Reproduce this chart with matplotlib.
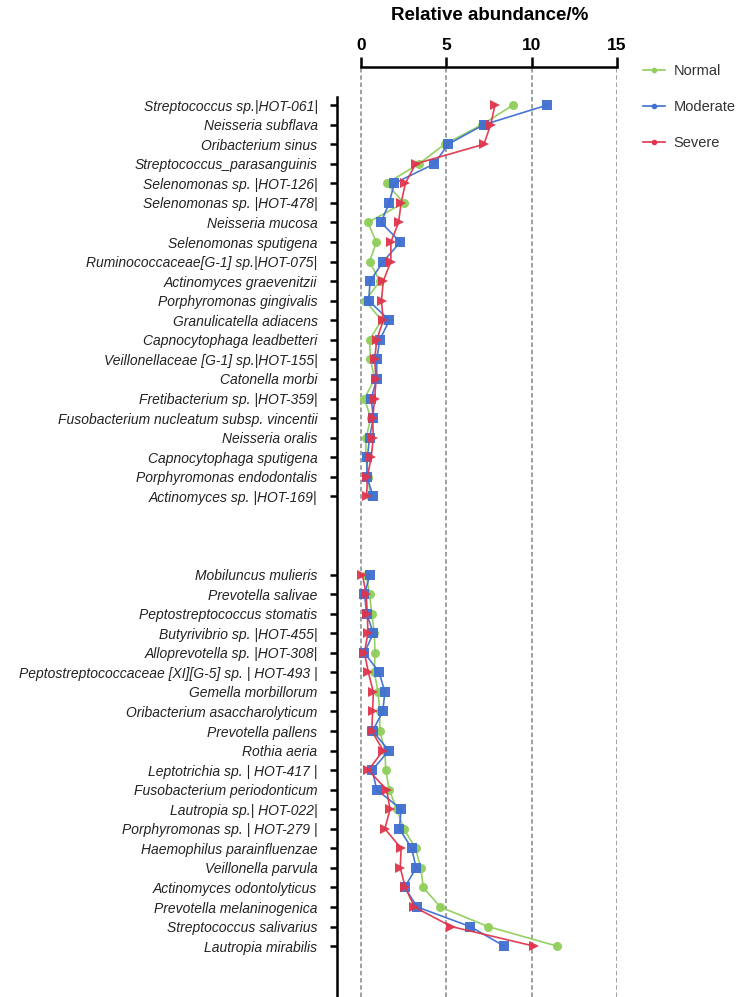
import matplotlib.pyplot as plt
from matplotlib.lines import Line2D

plt.rcParams['font.family'] = ['Liberation Sans', 'DejaVu Sans']

# --------------------------
# Data: taxa (top to bottom) and relative abundance (%) per group
# --------------------------
taxa_top = [
    "Streptococcus sp.|HOT-061|", "Neisseria subflava", "Oribacterium sinus",
    "Streptococcus_parasanguinis", "Selenomonas sp. |HOT-126|", "Selenomonas sp. |HOT-478|",
    "Neisseria mucosa", "Selenomonas sputigena", "Ruminococcaceae[G-1] sp.|HOT-075|",
    "Actinomyces graevenitzii", "Porphyromonas gingivalis", "Granulicatella adiacens",
    "Capnocytophaga leadbetteri", "Veillonellaceae [G-1] sp.|HOT-155|", "Catonella morbi",
    "Fretibacterium sp. |HOT-359|", "Fusobacterium nucleatum subsp. vincentii",
    "Neisseria oralis", "Capnocytophaga sputigena", "Porphyromonas endodontalis",
    "Actinomyces sp. |HOT-169|",
]
taxa_bottom = [
    "Mobiluncus mulieris", "Prevotella salivae", "Peptostreptococcus stomatis",
    "Butyrivibrio sp. |HOT-455|", "Alloprevotella sp. |HOT-308|",
    "Peptostreptococcaceae [XI][G-5] sp. | HOT-493 |", "Gemella morbillorum",
    "Oribacterium asaccharolyticum", "Prevotella pallens", "Rothia aeria",
    "Leptotrichia sp. | HOT-417 |", "Fusobacterium periodonticum", "Lautropia sp.| HOT-022|",
    "Porphyromonas sp. | HOT-279 |", "Haemophilus parainfluenzae", "Veillonella parvula",
    "Actinomyces odontolyticus", "Prevotella melaninogenica", "Streptococcus salivarius",
    "Lautropia mirabilis",
]

normal_top = [8.9, 7.1, 4.9, 3.4, 1.5, 2.5, 0.4, 0.9, 0.5, 1.1, 0.25, 1.2,
              0.5, 0.55, 0.8, 0.2, 0.57, 0.3, 0.27, 0.43, 0.53]
moderate_top = [10.9, 7.2, 5.1, 4.3, 1.95, 1.65, 1.17, 2.3, 1.3, 0.53, 0.45, 1.66,
                1.1, 0.92, 0.92, 0.6, 0.72, 0.5, 0.37, 0.33, 0.72]
severe_top = [7.85, 7.6, 7.2, 3.2, 2.6, 2.35, 2.2, 1.75, 1.75, 1.3, 1.2, 1.3,
              0.92, 0.8, 0.88, 0.8, 0.68, 0.72, 0.6, 0.37, 0.33]

normal_bottom = [0.3, 0.5, 0.63, 0.78, 0.82, 0.78, 1.0, 1.1, 1.1, 1.4,
                 1.45, 1.65, 2.1, 2.5, 3.2, 3.5, 3.65, 4.65, 7.45, 11.5]
moderate_bottom = [0.53, 0.2, 0.33, 0.72, 0.2, 1.06, 1.4, 1.27, 0.68, 1.63,
                   0.66, 0.92, 2.35, 2.25, 2.97, 3.23, 2.55, 3.3, 6.4, 8.4]
severe_bottom = [0.08, 0.3, 0.37, 0.4, 0.2, 0.43, 0.72, 0.68, 0.63, 1.3,
                 0.43, 1.5, 1.7, 1.4, 2.35, 2.3, 2.6, 3.13, 5.3, 10.15]

gap = 3  # empty rows between the two blocks
pos_top = list(range(len(taxa_top)))
pos_bottom = [len(taxa_top) + gap + i for i in range(len(taxa_bottom))]

groups = [
    ("Normal", normal_top, normal_bottom, "#8fce5a", "o"),
    ("Moderate", moderate_top, moderate_bottom, "#3f6fd0", "s"),
    ("Severe", severe_top, severe_bottom, "#e0344c", ">"),
]

fig = plt.figure(figsize=(7.48, 9.97), dpi=100)
ax = fig.add_axes([0.4505, 0.0, 0.3743, 0.9328])

for name, top, bottom, color, marker in groups:
    for pos, vals in ((pos_top, top), (pos_bottom, bottom)):
        ax.plot(vals, pos, color=color, lw=1.2, marker=marker, ms=6.5,
                markeredgewidth=0, alpha=0.95)

ax.set_xlim(-1.41, 15)
ax.set_ylim(45.6, -1.95)

# top axis with ticks
ax.xaxis.tick_top()
ax.set_xticks([0, 5, 10, 15])
ax.tick_params(axis="x", direction="out", length=7, width=1.8, pad=3,
               labelsize=12.5)
for lab in ax.get_xticklabels():
    lab.set_fontweight("bold")
ax.spines["top"].set_bounds(0, 15)
ax.spines["top"].set_linewidth(1.8)
ax.spines["right"].set_visible(False)
ax.spines["bottom"].set_visible(False)
ax.spines["left"].set_bounds(-0.4, 45.6)
ax.spines["left"].set_linewidth(1.8)

for x in [0, 5, 10, 15]:
    ax.axvline(x, color="#999999", lw=1.3, ls=(0, (2.5, 1.5)), zorder=0)

ax.set_yticks(pos_top + pos_bottom)
ax.set_yticklabels(taxa_top + taxa_bottom, fontstyle="italic", fontsize=10,
                   color="#222222")
ax.tick_params(axis="y", direction="out", length=5, width=1.8, pad=9)

fig.text(0.654, 0.984, "Relative abundance/%", ha="center", va="center",
         fontsize=13.5, fontweight="bold")

handles = [Line2D([], [], color=c, lw=1.2, marker="o", ms=3)
           for _, _, _, c, _ in groups]
fig.legend(handles, [g[0] for g in groups], loc="upper left",
           bbox_to_anchor=(0.842, 0.949), frameon=False, fontsize=10.5,
           handlelength=1.5, labelspacing=1.5, handletextpad=0.6,
           labelcolor="#333333")

plt.savefig("out.png", dpi=100)
